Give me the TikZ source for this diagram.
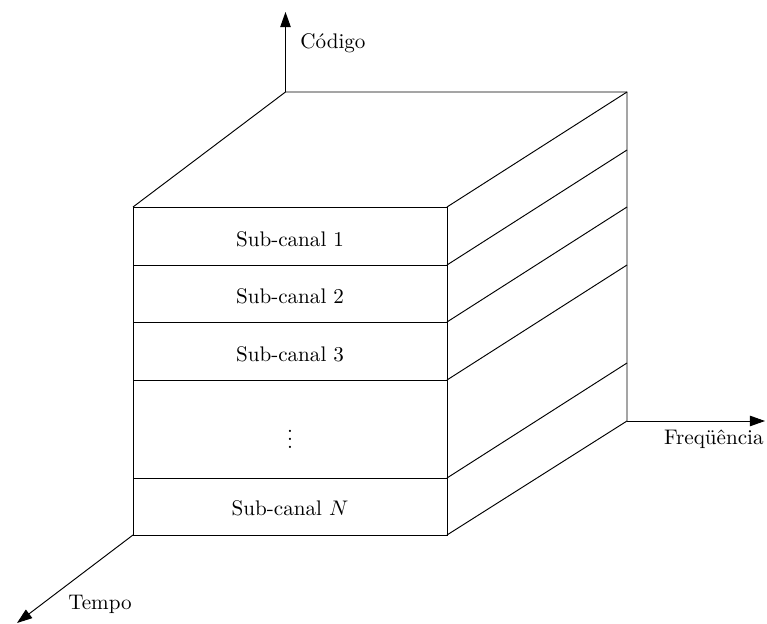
\documentclass[tikz,border=0pt]{standalone}
\usetikzlibrary{arrows.meta}
\begin{document}
\begin{tikzpicture}[x=0.4737pt,y=-0.4737pt,
  edge/.style={line width=0.45pt},
  axis/.style={line width=0.45pt,-{Triangle[length=7.2pt,width=5pt]}},
  lbl/.style={inner sep=0pt,font=\normalsize}]
\useasboundingbox (0,0) rectangle (767,624);
% corners
\coordinate (FTL) at (133,207);
\coordinate (FTR) at (447,207);
\coordinate (FBL) at (133,535);
\coordinate (FBR) at (447,535);
\coordinate (BTL) at (285.5,92);
\coordinate (BTR) at (627,92);
\coordinate (BBR) at (627,421);
% row levels
\coordinate (R1) at (447,265);
\coordinate (R2) at (447,322);
\coordinate (R3) at (447,380);
\coordinate (R4) at (447,478);
\coordinate (L1) at (133,265);
\coordinate (L2) at (133,322);
\coordinate (L3) at (133,380);
\coordinate (L4) at (133,478);
\coordinate (B1) at (627,150);
\coordinate (B2) at (627,207);
\coordinate (B3) at (627,265);
\coordinate (B4) at (627,363);
% axis ends
\coordinate (CodeTip) at (285.5,12);
\coordinate (FreqTip) at (765,421);
\coordinate (TimeTip) at (17,623);
% front face
\draw[edge] (FTL) rectangle (FBR);
\draw[edge] (L1) -- (R1);
\draw[edge] (L2) -- (R2);
\draw[edge] (L3) -- (R3);
\draw[edge] (L4) -- (R4);
% top face and right side
\draw[edge] (FTL) -- (BTL) -- (BTR) -- (BBR);
\draw[edge] (FTR) -- (BTR);
\draw[edge] (R1) -- (B1);
\draw[edge] (R2) -- (B2);
\draw[edge] (R3) -- (B3);
\draw[edge] (R4) -- (B4);
\draw[edge] (FBR) -- (BBR);
% axes
\draw[axis] (BTL) -- (CodeTip);
\draw[axis] (BBR) -- (FreqTip);
\draw[axis] (FBL) -- (TimeTip);
% labels
\node[lbl,anchor=west] (codigo) at (300,43) {Código};
\node[lbl,anchor=east] (freq) at (764,439) {Freqüência};
\node[lbl] (tempo) at (100,604) {Tempo};
\node[lbl] (s1) at (290,239) {Sub-canal 1};
\node[lbl] (s2) at (290,296) {Sub-canal 2};
\node[lbl] (s3) at (290,354) {Sub-canal 3};
\node[lbl] (dots) at (290,433) {$\vdots$};
\node[lbl] (sN) at (290,508) {Sub-canal $N$};
\end{tikzpicture}
\end{document}
